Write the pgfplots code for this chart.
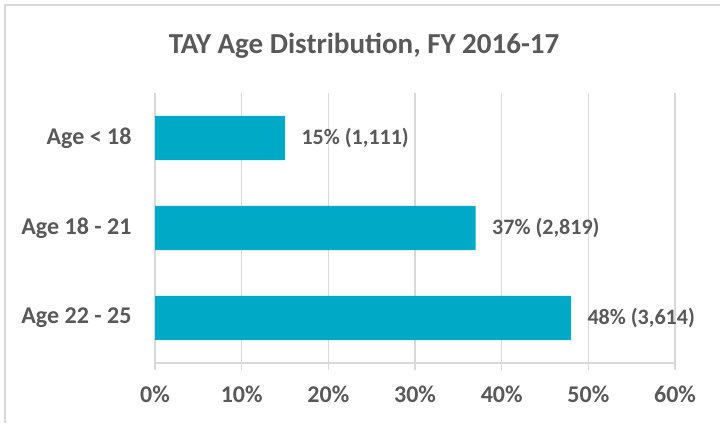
\documentclass[border=0pt]{standalone}
\usepackage{fontspec}
\setmainfont{Carlito}
\usepackage{pgfplots}
\pgfplotsset{compat=1.18}
\definecolor{barteal}{HTML}{00AAC6}
\definecolor{txtgray}{HTML}{595959}
\definecolor{gridgray}{HTML}{D9D9D9}
\begin{document}
\begin{tikzpicture}[x=1bp,y=1bp]
\useasboundingbox (0,0) rectangle (720,423);
\fill[white] (0,0) rectangle (720,423);
\draw[line width=2bp, gridgray] (5,0) -- (5,418) -- (720,418);
\node[text=txtgray, font=\fontsize{29bp}{32bp}\selectfont\bfseries] at (364,377) {TAY Age Distribution, FY 2016-17};
\begin{axis}[
  at={(155bp,60bp)}, anchor=south west,
  scale only axis, width=520bp, height=270bp,
  xmin=0, xmax=60, ymin=-0.5, ymax=2.5,
  xbar, bar width=0.49,
  ytick={0,1,2},
  yticklabels={Age 22 - 25, Age 18 - 21, Age < 18},
  xtick={0,10,20,30,40,50,60},
  xticklabels={0\%,10\%,20\%,30\%,40\%,50\%,60\%},
  axis lines*=left,
  x axis line style={draw=gridgray, line width=1.5bp},
  y axis line style={draw=none},
  xmajorgrids,
  grid style={gridgray, line width=1.5bp},
  tick align=outside,
  major tick length=7bp,
  xtick style={draw=gridgray, line width=1.5bp},
  ytick style={draw=none},
  tick label style={text=txtgray, font=\fontsize{24bp}{28bp}\selectfont\bfseries},
  xticklabel style={yshift=-12bp},
  yticklabel style={xshift=-13bp},
  nodes near coords,
  point meta=explicit symbolic,
  every node near coord/.append style={anchor=west, xshift=13bp, text=txtgray, font=\fontsize{22bp}{26bp}\selectfont\bfseries},
]
\addplot[fill=barteal, draw=none] coordinates {
  (48,0) [48\% (3,614)]
  (37,1) [37\% (2,819)]
  (15,2) [15\% (1,111)]
};
\end{axis}
\end{tikzpicture}
\end{document}
